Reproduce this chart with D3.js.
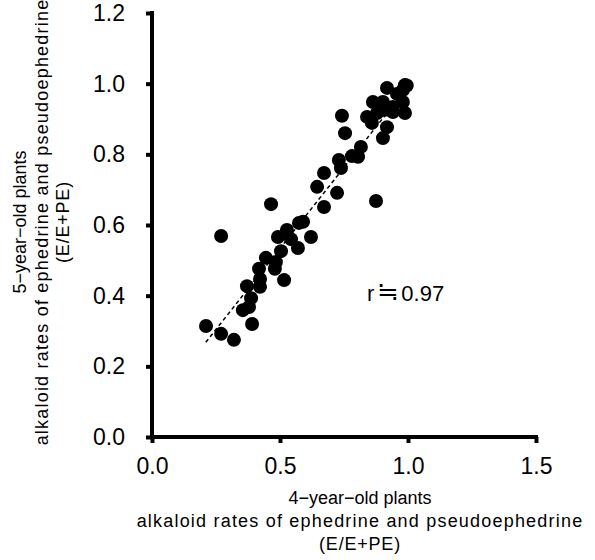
<!DOCTYPE html>
<meta charset="utf-8">
<script src="https://d3js.org/d3.v7.min.js"></script>
<style>
  body { margin: 0; background: #fff; }
  text { font-family: "Liberation Sans", Arial, "Noto Sans CJK JP", sans-serif; fill: #000; }
</style>
<div id="my_dataviz"></div>
<script>

// 4-year-old (x) vs 5-year-old (y) E/(E+PE) rates
var xVals = [0.211, 0.270, 0.270, 0.320, 0.391, 0.355, 0.379, 0.387, 0.371, 0.422,
             0.422, 0.418, 0.445, 0.480, 0.484, 0.516, 0.504, 0.492, 0.527, 0.543,
             0.570, 0.465, 0.574, 0.590, 0.621, 0.672, 0.645, 0.672, 0.723, 0.730,
             0.738, 0.781, 0.805, 0.816, 0.742, 0.754, 0.875, 0.840, 0.859, 0.902,
             0.863, 0.918, 0.988, 0.995, 0.980, 0.957, 0.902, 0.941, 0.980, 0.988,
             0.941, 0.910, 0.918, 0.879, 0.891];
var yVals = [0.314, 0.569, 0.292, 0.275, 0.320, 0.359, 0.368, 0.393, 0.427, 0.425,
             0.447, 0.476, 0.507, 0.476, 0.495, 0.444, 0.526, 0.566, 0.586, 0.560,
             0.535, 0.659, 0.606, 0.609, 0.566, 0.651, 0.708, 0.747, 0.691, 0.784,
             0.761, 0.795, 0.793, 0.821, 0.909, 0.860, 0.668, 0.906, 0.889, 0.846,
             0.948, 0.988, 0.996, 0.995, 0.982, 0.971, 0.948, 0.934, 0.948, 0.917,
             0.920, 0.926, 0.877, 0.917, 0.926];

// regression line end points
var trendX = [0.21, 1.0];
var trendY = [0.268, 0.992];

var xTicks = [0, 0.5, 1.0, 1.5];
var yTicks = [0, 0.2, 0.4, 0.6, 0.8, 1.0, 1.2];

var xTitle = ["4\u2212year\u2212old plants", "alkaloid rates of ephedrine and pseudoephedrine", "(E/E+PE)"];
var yTitle = ["5\u2212year\u2212old plants", "alkaloid rates of ephedrine and pseudoephedrine", "(E/E+PE)"];
var titleSpacing = [0, 1.2, 0.8];
var rParts = ["r", "\u2252", "0.97"];

var width = 595, height = 560;

var svg = d3.select("#my_dataviz")
  .append("svg")
    .attr("width", width)
    .attr("height", height);

var x = d3.scaleLinear().domain([0, 1.5]).range([152, 536]);
var y = d3.scaleLinear().domain([0, 1.2]).range([437, 13]);

// Y axis
var yAxis = svg.append("g")
    .attr("transform", "translate(" + x(0) + ",0)")
    .call(d3.axisLeft(y).tickValues(yTicks).tickFormat(d3.format(".1f"))
      .tickSizeInner(6).tickSizeOuter(0).tickPadding(21));

// X axis
var xAxis = svg.append("g")
    .attr("transform", "translate(0," + y(0) + ")")
    .call(d3.axisBottom(x).tickValues(xTicks).tickFormat(d3.format(".1f"))
      .tickSizeInner(6).tickSizeOuter(0).tickPadding(15));

[xAxis, yAxis].forEach(function(g) {
  g.select(".domain").attr("stroke", "#000").attr("stroke-width", 4);
  g.selectAll(".tick line").attr("stroke", "#000").attr("stroke-width", 4);
  g.selectAll(".tick text")
    .style("font-family", "Liberation Sans, Arial, sans-serif")
    .style("font-size", "23px")
    .attr("fill", "#000");
});
// extend axis lines to meet at the corner
xAxis.select(".domain").attr("d", "M" + (x(0) - 2) + ",0H" + (x(1.5) + 2));
yAxis.select(".domain").attr("d", "M0," + (y(1.2) - 2) + "V" + (y(0) + 2));

// trend line
svg.append("line")
    .attr("x1", x(trendX[0])).attr("y1", y(trendY[0]))
    .attr("x2", x(trendX[1])).attr("y2", y(trendY[1]))
    .attr("stroke", "#000")
    .attr("stroke-width", 1.5)
    .attr("stroke-dasharray", "4,3");

// points
svg.append("g")
  .selectAll("circle")
  .data(d3.range(xVals.length))
  .enter().append("circle")
    .attr("cx", function(i) { return x(xVals[i]); })
    .attr("cy", function(i) { return y(yVals[i]); })
    .attr("r", 7)
    .attr("fill", "#000");

// r label
var rText = svg.append("text")
    .attr("x", 367).attr("y", 301)
    .style("font-size", "22px");
rText.append("tspan").text(rParts[0]);
rText.append("tspan")
    .attr("dx", 3)
    .style("font-family", "'Noto Sans CJK JP', sans-serif")
    .style("font-size", "26px")
    .text(rParts[1]);
rText.append("tspan").attr("dx", 2).text(rParts[2]);

// x axis title
svg.append("g").selectAll("text")
  .data(xTitle)
  .enter().append("text")
    .attr("x", 360)
    .attr("y", function(d, i) { return 504 + i * 23; })
    .attr("text-anchor", "middle")
    .style("font-size", "18px")
    .style("letter-spacing", function(d, i) { return titleSpacing[i] + "px"; })
    .text(function(d) { return d; });

// y axis title
svg.append("g").selectAll("text")
  .data(yTitle)
  .enter().append("text")
    .attr("transform", function(d, i) { return "translate(" + (26 + i * 21.5) + ",222) rotate(-90)"; })
    .attr("text-anchor", "middle")
    .style("font-size", "18px")
    .style("letter-spacing", function(d, i) { return titleSpacing[i] + "px"; })
    .text(function(d) { return d; });

</script>
